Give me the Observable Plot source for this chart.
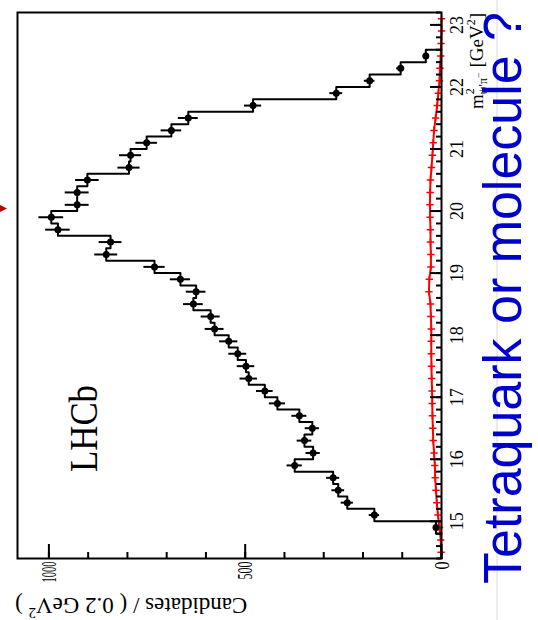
<!DOCTYPE html>
<html><head><meta charset="utf-8">
<script src="https://cdn.jsdelivr.net/npm/d3@7"></script>
<script src="https://cdn.jsdelivr.net/npm/@observablehq/plot@0.6"></script>
<style>
html,body{margin:0;padding:0;background:#fff;overflow:hidden;width:538px;height:620px;}
#wrap{position:absolute;left:0;top:0;width:620px;height:538px;transform-origin:0 0;transform:translate(0,620px) rotate(-90deg);}
</style></head><body><div id="wrap"></div>
<script>
// bin centres of m^2(psi' pi-) [GeV^2], bin width 0.2
const massBins = [14.9, 15.1, 15.3, 15.5, 15.7, 15.9, 16.1, 16.3, 16.5, 16.7, 16.9, 17.1, 17.3, 17.5, 17.7, 17.9, 18.1, 18.3, 18.5, 18.7, 18.9, 19.1, 19.3, 19.5, 19.7, 19.9, 20.1, 20.3, 20.5, 20.7, 20.9, 21.1, 21.3, 21.5, 21.7, 21.9, 22.1, 22.3, 22.5];
const candidates = [14, 171, 240, 263, 276, 374, 327, 349, 329, 362, 418, 450, 491, 498, 519, 542, 578, 588, 632, 625, 665, 731, 854, 843, 977, 994, 928, 928, 902, 796, 792, 751, 688, 645, 480, 268, 183, 104, 40];
// red curve
const bgMass = [14.5, 14.7, 14.9, 15.1, 15.3, 15.5, 15.7, 15.9, 16.1, 16.3, 16.5, 16.7, 16.9, 17.1, 17.3, 17.5, 17.7, 17.9, 18.1, 18.3, 18.5, 18.7, 18.9, 19.1, 19.3, 19.5, 19.7, 19.9, 20.1, 20.3, 20.5, 20.7, 20.9, 21.1, 21.3, 21.5, 21.7, 21.9, 22.1, 22.3, 22.5, 22.7, 22.9, 23.1];
const bgValues = [1, 2, 5, 9, 12, 14, 16, 17, 19, 21, 22, 23, 23.5, 24, 25, 25.5, 26, 26, 26, 27, 28, 32, 31, 27, 27, 28, 28, 29, 29.5, 29, 28, 25.5, 23, 21, 19, 15, 11, 8, 5, 4, 2, 1, 0, 0];
const massTicks = [15, 16, 17, 18, 19, 20, 21, 22, 23];
const candTicks = [0, 500, 1000];
const candMinorTicks = [0, 100, 200, 300, 400, 500, 600, 700, 800, 900, 1000];
const binWidth = 0.2;
const massDomain = [14.4, 23.2];
const candDomain = [0, 1080];

const massMinorTicks = d3.range(0, 45).map(i => Math.round((massDomain[0] + i * binWidth) * 10) / 10);

const pts = massBins.map((m, i) => ({m, n: candidates[i]}));
const bg = bgMass.map((m, i) => ({m, v: bgValues[i]}));
const hist = [];
pts.forEach((d, i) => {
  const lo = d.m - binWidth / 2, hi = d.m + binWidth / 2;
  if (i === 0) hist.push({x: lo, y: 0});
  hist.push({x: lo, y: d.n}, {x: hi, y: d.n});
  if (i === pts.length - 1) hist.push({x: hi, y: 0});
});

const serif = "'Liberation Serif', 'Times New Roman', Times, serif";
const svg = Plot.plot({
  width: 620, height: 538,
  marginLeft: 61, marginRight: 13, marginTop: 17, marginBottom: 97,
  style: {fontFamily: serif, background: "white", color: "black"},
  x: {domain: massDomain, label: null},
  y: {domain: candDomain, label: null},
  marks: [
    Plot.line(bg, {x: "m", y: "v", stroke: "#ff0000", strokeWidth: 2}),
    Plot.dot(bg, {x: "m", y: "v", symbol: "plus", r: 2.5, stroke: "#ff0000", strokeWidth: 1.5}),
    Plot.line(hist, {x: "x", y: "y", stroke: "black", strokeWidth: 2}),
    Plot.ruleX(pts, {x: "m", y1: d => d.n - Math.sqrt(d.n), y2: d => d.n + Math.sqrt(d.n), stroke: "black", strokeWidth: 2}),
    Plot.dot(pts, {x: "m", y: "n", r: 3.5, fill: "black"}),
    Plot.axisX(massMinorTicks, {tickSize: -5, tickFormat: () => "", strokeWidth: 2, label: null}),
    Plot.axisX(massTicks, {tickSize: -11, tickPadding: 20, tickFormat: d => String(d), fontSize: 18, strokeWidth: 2, label: null}),
    Plot.axisY(candMinorTicks, {tickSize: -7, tickFormat: () => "", strokeWidth: 2, label: null}),
    Plot.axisY(candTicks, {tickSize: -15, tickPadding: 18, tickFormat: d => String(d), fontSize: 22, strokeWidth: 2, label: null}),
    Plot.frame({stroke: "black", strokeWidth: 2})
  ]
});

const s = d3.select(svg);
s.selectAll('g[aria-label="y-axis tick label"] text').each(function() {
  const t = d3.select(this).text();
  if (t === "1000") d3.select(this).attr("textLength", 21).attr("lengthAdjust", "spacingAndGlyphs");
  if (t === "500") d3.select(this).attr("textLength", 18).attr("lengthAdjust", "spacingAndGlyphs");
  if (t === "0") d3.select(this).attr("textLength", 8).attr("lengthAdjust", "spacingAndGlyphs");
});

// y title
const ct = s.append("text").attr("transform", "translate(22,15) rotate(-90)")
  .attr("text-anchor", "end").attr("font-size", 23).attr("fill", "black");
ct.append("tspan").text("Candidates / ( 0.2 GeV");
ct.append("tspan").attr("font-size", 15).attr("dy", -10).text("2");
ct.append("tspan").attr("dy", 10).text(" )");

// x title
const mt = s.append("text").attr("x", 607).attr("y", 483).attr("text-anchor", "end")
  .attr("font-size", 19).attr("fill", "black");
mt.append("tspan").text("m");
mt.append("tspan").attr("font-size", 12).attr("dy", -9).text("2");
mt.append("tspan").attr("font-size", 12).attr("dx", -6).attr("dy", 13).text("ψ′π");
mt.append("tspan").attr("font-size", 10).attr("dy", -5).text("−");
mt.append("tspan").attr("dy", 1).text(" [GeV");
mt.append("tspan").attr("font-size", 12).attr("dy", -8).text("2");
mt.append("tspan").attr("dy", 8).text("]");

// LHCb
s.append("text").attr("x", 148).attr("y", 97).attr("text-anchor", "start")
  .attr("font-size", 40).attr("fill", "black")
  .attr("textLength", 87).attr("lengthAdjust", "spacingAndGlyphs").text("LHCb");

// slide elements
s.append("line").attr("x1", 0).attr("x2", 620).attr("y1", 497).attr("y2", 497)
  .attr("stroke", "#d8d8d8").attr("stroke-width", 1);
s.append("path").attr("d", "M408,0L415,0L411.5,7Z").attr("fill", "#c00000");
s.append("text").attr("x", 36).attr("y", 521).attr("text-anchor", "start")
  .attr("font-family", "'Liberation Sans', Arial, Helvetica, sans-serif")
  .attr("font-size", 54).attr("fill", "#0000cc")
  .attr("textLength", 572).attr("lengthAdjust", "spacingAndGlyphs")
  .text("Tetraquark or molecule ?");

document.getElementById("wrap").appendChild(svg);
</script>
</body></html>
